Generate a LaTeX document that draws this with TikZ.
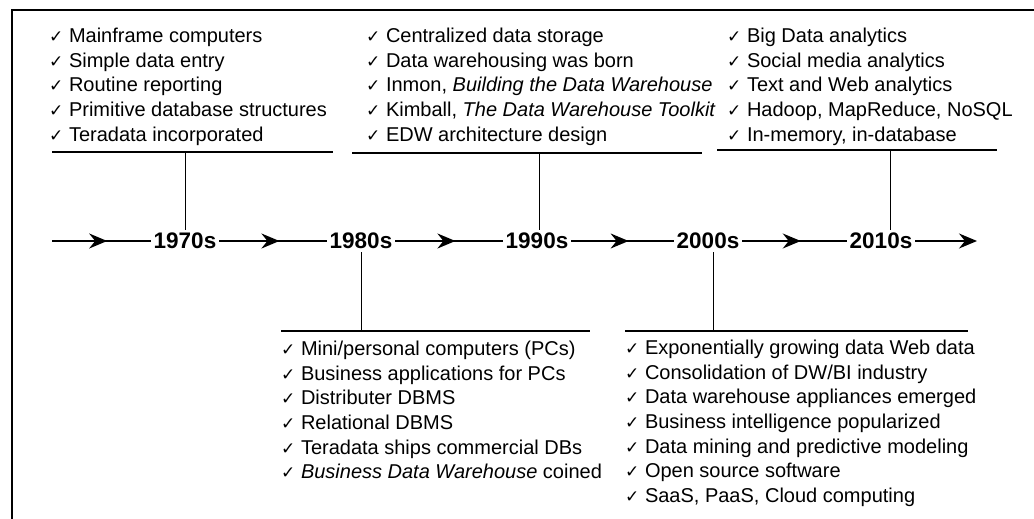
\documentclass[tikz,border=0pt]{standalone}
\usepackage{fontspec}
\setmainfont{Liberation Sans}
\newfontfamily\tickfont{DejaVu Sans}
\usetikzlibrary{arrows.meta}
\usetikzlibrary{decorations.markings}
\tikzset{>=latex}
\newcommand{\chk}{{\tickfont\fontsize{17}{17}\selectfont ✓}}

\begin{document}
\begin{tikzpicture}[x=1pt, y=1pt,
    era/.style={font=\fontsize{22.5}{22.5}\selectfont\bfseries, inner sep=3pt},
    notes/.style={font=\fontsize{20}{24.6}\selectfont, align=left, inner sep=0pt, anchor=north west},
    rule/.style={line width=1.3pt},
    stem/.style={line width=0.9pt},
    flow/.style={line width=1.8pt, postaction={decorate}, decoration={
    markings,
    mark=at position 0.56 with {\arrow{Stealth[length=18pt,width=15pt,inset=6pt]}}}}]
    \useasboundingbox (0,0) rectangle (1034,-519);
    \draw[line width=2pt] (12,-519) -- (12,-10) -- (1034,-10);

    % time line
    \coordinate (start) at (52,-241);
    \coordinate (stop) at (977,-241);
    \node[era] (y70) at (185,-241) {1970s};
    \node[era] (y80) at (361,-241) {1980s};
    \node[era] (y90) at (537,-241) {1990s};
    \node[era] (y00) at (708,-241) {2000s};
    \node[era] (y10) at (881,-241) {2010s};
    \draw[flow] (start) -- (y70);
    \draw[flow] (y70) -- (y80);
    \draw[flow] (y80) -- (y90);
    \draw[flow] (y90) -- (y00);
    \draw[flow] (y00) -- (y10);
    \draw[line width=1.8pt, -{Stealth[length=18pt,width=15pt,inset=6pt]}] (y10) -- (stop);

    % above the line
    \node[notes] (n70) at (49,-28) {\chk{} Mainframe computers\\
        \chk{} Simple data entry\\
        \chk{} Routine reporting\\
        \chk{} Primitive database structures\\
        \chk{} Teradata incorporated};
    \node[notes] (n90) at (366,-28) {\chk{} Centralized data storage\\
        \chk{} Data warehousing was born\\
        \chk{} Inmon, \textit{Building the Data Warehouse}\\
        \chk{} Kimball, \textit{The Data Warehouse Toolkit}\\
        \chk{} EDW architecture design};
    \node[notes] (n10) at (727,-28) {\chk{} Big Data analytics\\
        \chk{} Social media analytics\\
        \chk{} Text and Web analytics\\
        \chk{} Hadoop, MapReduce, NoSQL\\
        \chk{} In-memory, in-database};
    \draw[rule] (52,-152) -- (333,-152);
    \draw[rule] (352,-153) -- (702,-153);
    \draw[rule] (717,-150) -- (997,-150);
    \coordinate (j70) at (185,-152);
    \coordinate (j90) at (539,-153);
    \coordinate (j10) at (890,-150);
    \draw[stem] (j70) -- (j70 |- y70.north);
    \draw[stem] (j90) -- (j90 |- y90.north);
    \draw[stem] (j10) -- (j10 |- y10.north);

    % below the line
    \node[notes] (n80) at (281,-341) {\chk{} Mini/personal computers (PCs)\\
        \chk{} Business applications for PCs\\
        \chk{} Distributer DBMS\\
        \chk{} Relational DBMS\\
        \chk{} Teradata ships commercial DBs\\
        \chk{} \textit{Business Data Warehouse} coined};
    \node[notes] (n00) at (625,-340) {\chk{} Exponentially growing data Web data\\
        \chk{} Consolidation of DW/BI industry\\
        \chk{} Data warehouse appliances emerged\\
        \chk{} Business intelligence popularized\\
        \chk{} Data mining and predictive modeling\\
        \chk{} Open source software\\
        \chk{} SaaS, PaaS, Cloud computing};
    \draw[rule] (281,-331) -- (590,-331);
    \draw[rule] (625,-331) -- (968,-331);
    \coordinate (j80) at (361,-331);
    \coordinate (j00) at (713,-331);
    \draw[stem] (j80) -- (j80 |- y80.south);
    \draw[stem] (j00) -- (j00 |- y00.south);
\end{tikzpicture}
\end{document}
